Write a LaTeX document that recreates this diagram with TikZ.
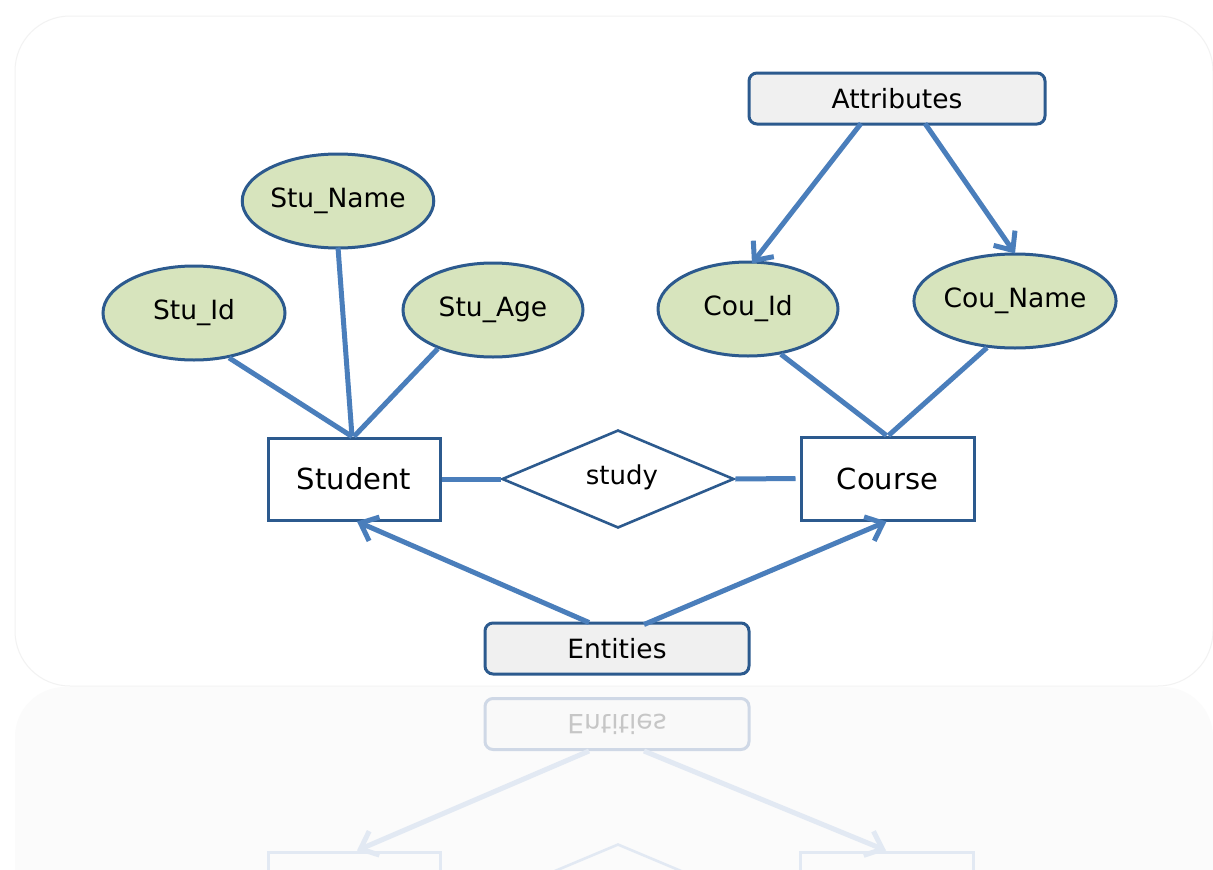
\documentclass[tikz,border=0pt]{standalone}
\usepackage{fontspec}
\usepackage{graphicx}
\setmainfont{DejaVu Sans}
\usetikzlibrary{shapes.geometric,arrows.meta}
\definecolor{bord}{HTML}{2C5A8E}
\definecolor{conn}{HTML}{4A7EBB}
\definecolor{attrfill}{HTML}{D7E4BD}
\definecolor{boxfill}{HTML}{F0F0F0}
\definecolor{rconn}{HTML}{E2E9F3}
\definecolor{rbord}{HTML}{CFD8E6}
\tikzset{
  attr/.style={ellipse, draw=bord, line width=3pt, fill=attrfill, minimum width=182pt, minimum height=94pt, inner sep=0pt, font=\fontsize{26.5}{30}\selectfont},
  entity/.style={rectangle, draw=bord, line width=3pt, fill=white, minimum width=172pt, minimum height=82pt, inner sep=0pt, font=\fontsize{29}{34}\selectfont},
  rel/.style={diamond, draw=bord, line width=2.6pt, fill=white, aspect=2.37, minimum width=232pt, minimum height=98pt, inner sep=0pt, font=\fontsize{26}{30}\selectfont},
  labelbox/.style={rectangle, rounded corners=8pt, draw=bord, line width=3pt, fill=boxfill, minimum height=51pt, inner sep=0pt, font=\fontsize{26.5}{30}\selectfont},
  link/.style={draw=conn, line width=5pt},
  arr/.style={draw=conn, line width=5pt, -{Straight Barb[length=15pt,width=26pt,line width=5pt]}},
  rarr/.style={draw=rconn, line width=5pt, -{Straight Barb[length=15pt,width=26pt,line width=5pt]}},
}
\begin{document}
\begin{tikzpicture}[x=1pt,y=-1pt]
\useasboundingbox (0,0) rectangle (1213,870);
\fill[white] (0,0) rectangle (1213,870);
% panels
\draw[gray!10, line width=1pt, fill=white] (15,16) [rounded corners=55pt] -- (15,686) -- (1213,686) -- (1213,16) -- cycle;
\begin{scope}
\clip (0,687) rectangle (1213,870);
\fill[gray!3, rounded corners=50pt] (15,687) rectangle (1213,940);
% reflection
\node[rectangle, rounded corners=8pt, draw=rbord, line width=3pt, fill=gray!5, minimum width=264pt, minimum height=51pt, inner sep=0pt, font=\fontsize{26.5}{30}\selectfont, text=gray!45] (rentities) at (617,724) {\scalebox{1}[-1]{Entities}};
\node[rectangle, draw=rconn, line width=3pt, minimum width=172pt, minimum height=82pt, inner sep=0pt] (rstudent) at (354,893) {};
\node[rectangle, draw=rconn, line width=3pt, minimum width=173pt, minimum height=82pt, inner sep=0pt] (rcourse) at (887,893) {};
\node[diamond, draw=rconn, line width=2.6pt, aspect=2.37, minimum width=232pt, minimum height=98pt, inner sep=0pt] (rstudy) at (618,893) {};
\draw[rarr] ([xshift=-28pt]rentities.south) -- ([xshift=3pt]rstudent.north);
\draw[rarr] ([xshift=27pt]rentities.south) -- ([xshift=-1pt]rcourse.north);
\end{scope}
% nodes
\node[labelbox, minimum width=296pt] (attributes) at (897,98.5) {Attributes};
\node[labelbox, minimum width=264pt] (entities) at (617,648.5) {Entities};
\node[attr] (stuname) at (338,201) {Stu\_Name};
\node[attr] (stuid) at (194,313) {Stu\_Id};
\node[attr, minimum width=180pt] (stuage) at (493,310) {Stu\_Age};
\node[attr, minimum width=180pt] (couid) at (748,309) {Cou\_Id};
\node[attr, minimum width=184pt] (couname) at (1015,301) {Cou\_Name};
\node[entity] (student) at (354,479) {Student};
\node[entity, minimum width=173pt, minimum height=83pt] (course) at (887.5,478.5) {Course};
\node[rel] (study) at (618,479) {};
\node[font=\fontsize{26}{30}\selectfont] (studytext) at (622,477) {study};
% connectors
\draw[link] (stuid.-52) -- ([xshift=-2pt]student.north);
\draw[link] ([yshift=2pt]stuname.south) -- ([xshift=-2pt]student.north);
\draw[link] (stuage.-145) -- (student.north);
\draw[link] (couid.-54) -- ([xshift=-1pt]course.north);
\draw[link] (couname.-121) -- ([xshift=1pt]course.north);
\draw[link] (student.east) -- (study.west);
\draw[link] (study.east) -- ([xshift=-4pt]course.west);
\draw[arr] ([xshift=-36pt,yshift=2pt]attributes.south) -- ([xshift=4pt,yshift=-3pt]couid.north);
\draw[arr] ([xshift=28pt,yshift=2pt]attributes.south) -- ([yshift=-1pt]couname.north);
\draw[arr] ([xshift=-28pt,yshift=-1pt]entities.north) -- ([xshift=3pt]student.south);
\draw[arr] ([xshift=27pt,yshift=-3pt]entities.north) -- ([xshift=-1pt]course.south);
\end{tikzpicture}
\end{document}
